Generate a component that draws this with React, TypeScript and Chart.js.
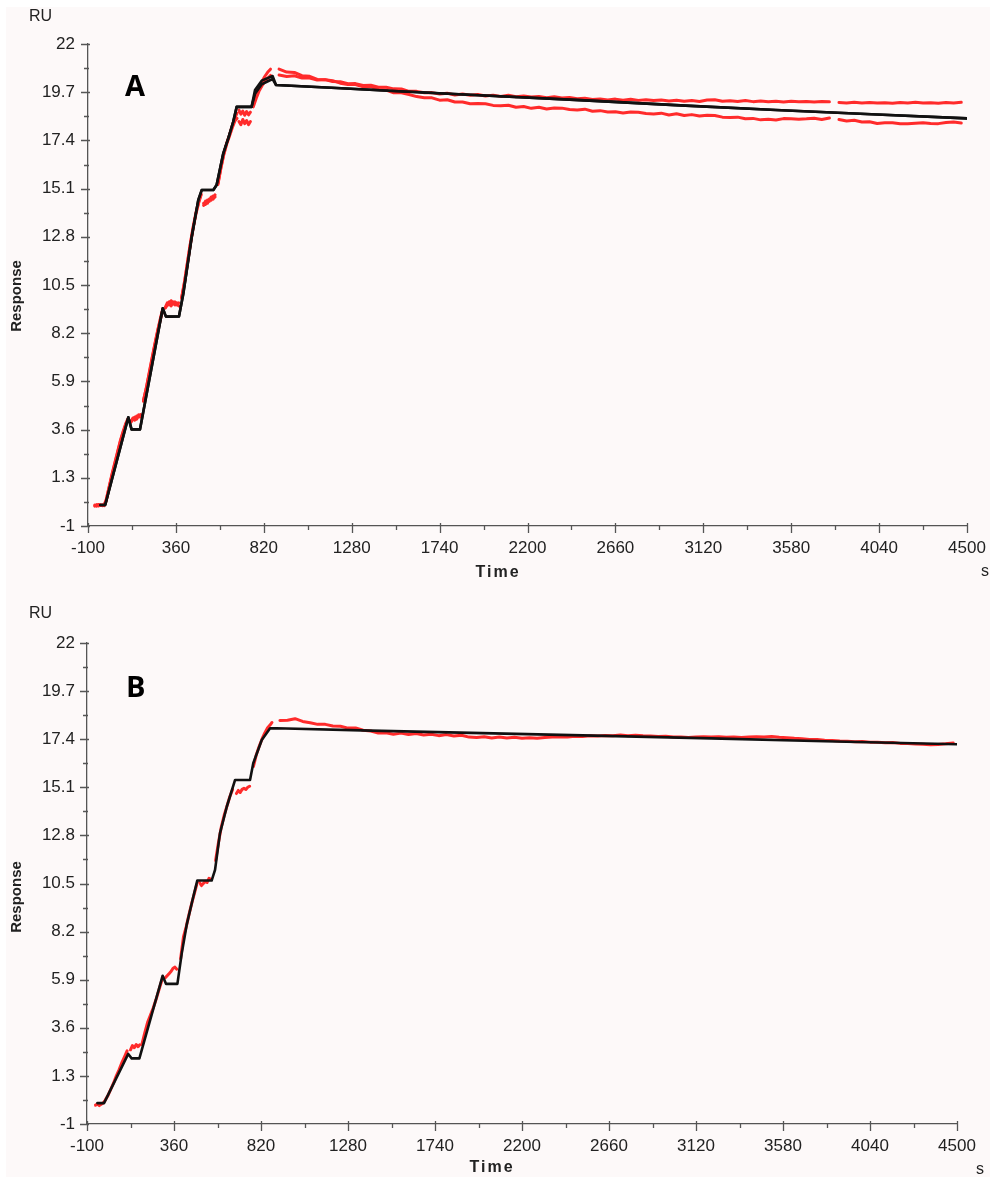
import React, { useEffect, useRef } from "react";
import { Chart, registerables } from "chart.js";

Chart.register(...registerables);

// ---------- axes ----------
const X_TICKS = [-100, 360, 820, 1280, 1740, 2200, 2660, 3120, 3580, 4040, 4500];
const X_TICK_LABELS = ["-100", "360", "820", "1280", "1740", "2200", "2660", "3120", "3580", "4040", "4500"];
const Y_TICKS = [-1, 1.3, 3.6, 5.9, 8.2, 10.5, 12.8, 15.1, 17.4, 19.7, 22];
const Y_TICK_LABELS = ["-1", "1.3", "3.6", "5.9", "8.2", "10.5", "12.8", "15.1", "17.4", "19.7", "22"];

// ---------- panel A : fitted curves (black) ----------
const fitA_t = [-35, -10, 111, 128, 172, 291, 308, 376, 399, 443, 477, 495, 556, 573, 608, 634, 660, 678, 756, 774, 809, 866, 884, 1200, 1500, 2000, 2500, 3000, 3500, 4000, 4500];
const fitA1_y = [0.0, 0.0, 4.19, 3.61, 3.61, 9.39, 8.99, 9.0, 10.1, 12.8, 14.55, 15.03, 15.03, 15.27, 16.78, 17.5, 18.29, 19.0, 19.0, 19.8, 20.25, 20.47, 20.04, 19.9, 19.76, 19.53, 19.31, 19.07, 18.85, 18.65, 18.45];
const fitA2_y = [0.0, 0.0, 4.19, 3.61, 3.61, 9.39, 8.99, 9.0, 10.1, 12.8, 14.55, 15.03, 15.03, 15.27, 16.78, 17.5, 18.29, 19.0, 19.0, 19.62, 20.08, 20.33, 20.04, 19.9, 19.76, 19.53, 19.31, 19.07, 18.85, 18.65, 18.45];

// ---------- panel A : measured data (red), association phase ----------
const redA_assoc_t = [
  -65, -55, -45, -35, -25, -15, -5, 10, 25, 40, 55, 70, 85, 98, 108, 116,
  125, 135, 145, 155, 165, 175, 183,
  190, 205, 220, 235, 250, 265, 280, 290, 297,
  305, 315, 325, 335, 345, 355, 365, 375, 383,
  390, 405, 420, 435, 450, 465, 480, 492, 498,
  505, 515, 525, 535, 545, 555, 565, 572,
  580, 595, 610, 625, 640, 655, 670, 680, 685,
  690, 700, 710, 720, 730, 740, 750, 757,
  765, 780, 795, 810, 825, 840, 855,
];
const redA1_assoc = [
  -0.05, 0.02, -0.04, 0.01, -0.03, 0.02, 0.25, 0.85, 1.45, 2.0, 2.55, 3.1, 3.55, 3.9, 4.1, null,
  4.0, 4.15, 4.05, 4.25, 4.2, 4.32, null,
  5.0, 5.55, 6.3, 7.0, 7.7, 8.35, 8.95, 9.3, null,
  9.45, 9.65, 9.55, 9.75, 9.6, 9.7, 9.55, 9.65, null,
  9.9, 10.65, 11.55, 12.45, 13.25, 13.95, 14.5, 14.85, null,
  14.3, 14.5, 14.4, 14.6, 14.55, 14.75, 14.7, null,
  15.35, 16.1, 16.75, 17.25, 17.65, 18.1, 18.5, 18.7, null,
  18.85, 18.65, 18.8, 18.6, 18.78, 18.62, 18.75, null,
  19.25, 19.65, 19.95, 20.2, 20.45, 20.65, 20.8,
];
const redA2_assoc = [
  0.0, -0.06, 0.03, -0.02, 0.01, -0.03, 0.2, 0.8, 1.4, 1.95, 2.5, 3.05, 3.5, 3.85, 4.05, null,
  3.95, 4.1, 4.2, 4.1, 4.3, 4.2, null,
  4.95, 5.6, 6.25, 6.95, 7.65, 8.3, 8.9, 9.25, null,
  9.4, 9.55, 9.7, 9.5, 9.7, 9.55, 9.65, 9.5, null,
  9.85, 10.6, 11.5, 12.4, 13.2, 13.9, 14.45, 14.8, null,
  14.4, 14.35, 14.55, 14.5, 14.7, 14.6, 14.8, null,
  15.3, 16.05, 16.7, 17.2, 17.6, 18.0, 18.35, 18.45, null,
  18.3, 18.15, 18.4, 18.2, 18.35, 18.15, 18.3, null,
  19.0, 19.4, 19.75, 20.0, 20.2, 20.35, 20.5,
];

// ---------- panel A : measured data (red), dissociation phase ----------
const redA_diss_t = [
  900, 940, 980, 1020, 1060, 1100, 1140, 1180, 1220, 1260,
  1300, 1340, 1380, 1420, 1460, 1500, 1540, 1580, 1620, 1660,
  1700, 1740, 1780, 1820, 1860, 1900, 1940, 1980, 2020, 2060,
  2100, 2140, 2180, 2220, 2260, 2300, 2340, 2380, 2420, 2460,
  2500, 2540, 2580, 2620, 2660, 2700, 2740, 2780, 2820, 2860,
  2900, 2940, 2980, 3020, 3060, 3100, 3140, 3180, 3220, 3260,
  3300, 3340, 3380, 3420, 3460, 3500, 3540, 3580, 3620, 3660,
  3700, 3740, 3780, 3805, 3830, 3870, 3910, 3950, 3990, 4030,
  4070, 4110, 4150, 4190, 4230, 4270, 4310, 4350, 4390, 4430,
  4470,
];
const redA1_diss = [
  20.80, 20.66, 20.64, 20.49, 20.46, 20.31, 20.30, 20.25, 20.13, 20.07,
  20.07, 19.96, 19.97, 19.83, 19.80, 19.67, 19.67, 19.59, 19.49, 19.44,
  19.43, 19.32, 19.34, 19.23, 19.23, 19.15, 19.16, 19.15, 19.07, 19.05,
  19.08, 18.98, 19.02, 18.93, 18.98, 18.90, 18.95, 18.94, 18.87, 18.85,
  18.89, 18.79, 18.82, 18.76, 18.77, 18.71, 18.76, 18.74, 18.68, 18.66,
  18.70, 18.61, 18.67, 18.59, 18.63, 18.56, 18.60, 18.59, 18.51, 18.49,
  18.51, 18.43, 18.45, 18.38, 18.41, 18.37, 18.44, 18.43, 18.41, 18.43,
  18.46, 18.40, 18.47, null, 18.40, 18.33, 18.36, 18.28, 18.29, 18.21,
  18.24, 18.24, 18.20, 18.20, 18.22, 18.24, 18.21, 18.20, 18.25, 18.28,
  18.23,
];
const redA2_diss = [
  20.52, 20.45, 20.48, 20.38, 20.38, 20.28, 20.30, 20.21, 20.20, 20.10,
  20.11, 20.02, 20.03, 19.94, 19.94, 19.86, 19.85, 19.74, 19.74, 19.67,
  19.68, 19.61, 19.65, 19.57, 19.61, 19.55, 19.59, 19.52, 19.56, 19.50,
  19.55, 19.48, 19.52, 19.47, 19.50, 19.44, 19.48, 19.42, 19.45, 19.39,
  19.41, 19.35, 19.38, 19.33, 19.37, 19.32, 19.36, 19.31, 19.34, 19.30,
  19.33, 19.28, 19.32, 19.27, 19.30, 19.26, 19.33, 19.34, 19.27, 19.29,
  19.26, 19.30, 19.25, 19.28, 19.24, 19.27, 19.23, 19.27, 19.24, 19.26,
  19.23, 19.26, 19.24, null, 19.21, 19.18, 19.22, 19.19, 19.21, 19.18,
  19.20, 19.17, 19.21, 19.19, 19.22, 19.18, 19.20, 19.17, 19.21, 19.19,
  19.22,
];

// ---------- panel B : fitted curve (black) ----------
const fitB_t = [-45, -10, 118, 136, 177, 300, 318, 378, 401, 427, 462, 483, 559, 577, 603, 639, 683, 762, 779, 824, 868, 900, 1400, 2050, 2580, 3200, 3800, 4500];
const fitB_y = [0.0, 0.0, 2.35, 2.14, 2.14, 6.09, 5.70, 5.70, 7.16, 8.52, 9.87, 10.64, 10.64, 11.15, 12.90, 14.17, 15.45, 15.45, 16.25, 17.36, 17.92, 17.92, 17.81, 17.68, 17.57, 17.44, 17.30, 17.16];

// ---------- panel B : measured data (red) ----------
const redB_assoc_t = [
  -55, -45, -35, -25, -15, -5, 10, 25, 40, 55, 70, 85, 100, 112, 120,
  130, 140, 150, 160, 170, 178, 184,
  190, 205, 220, 235, 250, 265, 280, 295, 305,
  315, 325, 335, 345, 355, 365, 375, 385,
  395, 410, 425, 440, 455, 470, 480, 486,
  495, 505, 515, 525, 535, 545, 555, 565,
  580, 595, 610, 625, 640, 655, 670, 680,
  690, 700, 710, 720, 730, 740, 750, 760, 768,
  780, 795, 810, 825, 840, 855, 870, 878,
];
const redB_assoc = [
  -0.1, -0.05, -0.12, -0.06, 0.0, 0.12, 0.35, 0.65, 0.95, 1.3, 1.6, 1.95, 2.25, 2.5, null,
  2.55, 2.75, 2.65, 2.8, 2.7, 2.78, null,
  2.8, 3.35, 3.85, 4.2, 4.55, 4.95, 5.4, 5.85, null,
  6.0, 6.1, 6.2, 6.3, 6.45, 6.5, 6.4, null,
  6.9, 7.95, 8.45, 9.05, 9.6, 10.1, 10.45, null,
  10.55, 10.4, 10.5, 10.6, 10.55, 10.75, 10.7, null,
  11.6, 12.45, 13.2, 13.75, 14.2, 14.65, 15.0, null,
  14.8, 14.95, 14.85, 15.0, 15.05, 15.0, 15.1, 15.15, null,
  16.1, 16.65, 17.05, 17.4, 17.7, 17.95, 18.1, 18.2,
];
const redB_diss_t = [
  920, 960, 1000, 1040, 1080, 1120, 1160, 1200, 1240, 1280,
  1320, 1360, 1400, 1440, 1480, 1520, 1560, 1600, 1640, 1680,
  1720, 1760, 1800, 1840, 1880, 1920, 1960, 2000, 2040, 2080,
  2120, 2160, 2200, 2240, 2280, 2320, 2360, 2400, 2440, 2480,
  2520, 2560, 2600, 2640, 2680, 2720, 2760, 2800, 2840, 2880,
  2920, 2960, 3000, 3040, 3080, 3120, 3160, 3200, 3240, 3280,
  3320, 3360, 3400, 3440, 3480, 3520, 3560, 3600, 3640, 3680,
  3720, 3760, 3800, 3840, 3880, 3920, 3960, 4000, 4040, 4080,
  4120, 4160, 4200, 4240, 4280, 4320, 4360, 4400, 4440, 4480,
];
const redB_diss = [
  18.30, 18.31, 18.38, 18.25, 18.19, 18.11, 18.11, 18.03, 18.02, 17.93,
  17.94, 17.83, 17.79, 17.70, 17.71, 17.64, 17.69, 17.62, 17.67, 17.60,
  17.64, 17.57, 17.62, 17.55, 17.59, 17.50, 17.48, 17.52, 17.46, 17.51,
  17.46, 17.49, 17.45, 17.47, 17.44, 17.48, 17.50, 17.52, 17.50, 17.54,
  17.53, 17.56, 17.55, 17.58, 17.57, 17.60, 17.57, 17.59, 17.56, 17.55,
  17.53, 17.54, 17.50, 17.51, 17.48, 17.51, 17.52, 17.50, 17.52, 17.49,
  17.51, 17.48, 17.50, 17.52, 17.50, 17.53, 17.49, 17.47, 17.44, 17.42,
  17.39, 17.38, 17.35, 17.34, 17.31, 17.30, 17.28, 17.29, 17.26, 17.25,
  17.23, 17.24, 17.20, 17.19, 17.17, 17.16, 17.13, 17.15, 17.18, 17.22,
];

// ---------- styles ----------
const RED = "#ff2b2b";
const BLACK = "#111111";
const AXIS = "#555555";
const TEXT = "#222222";
const BG = "#fdf9f9";
const FONT = "'Liberation Sans', Arial, sans-serif";

type Pt = { x: number; y: number | null };
function pts(t: number[], y: (number | null)[]): Pt[] {
  return t.map((x, i) => ({ x, y: y[i] === undefined ? null : y[i] }));
}

type PanelCfg = {
  top: number;
  height: number;
  area: { left: number; right: number; top: number; bottom: number };
  yLabelPad: number;
  letter: string;
  letterPos: [number, number];
  ruPos: [number, number];
  responsePos: [number, number];
  timePos: [number, number];
  sPos: [number, number];
  datasets: { data: Pt[]; color: string; width: number; order: number }[];
};

const PANEL_A: PanelCfg = {
  top: 0,
  height: 595,
  area: { left: 88, right: 967, top: 44, bottom: 526 },
  yLabelPad: 13,
  letter: "A",
  letterPos: [125, 96],
  ruPos: [29, 17],
  responsePos: [17, 296],
  timePos: [498, 573],
  sPos: [985, 572],
  datasets: [
    { data: pts(redA_assoc_t, redA1_assoc), color: RED, width: 3, order: 2 },
    { data: pts(redA_assoc_t, redA2_assoc), color: RED, width: 3, order: 2 },
    { data: pts(redA_diss_t, redA1_diss), color: RED, width: 3, order: 2 },
    { data: pts(redA_diss_t, redA2_diss), color: RED, width: 3, order: 2 },
    { data: pts(fitA_t, fitA2_y), color: BLACK, width: 2.6, order: 1 },
    { data: pts(fitA_t, fitA1_y), color: BLACK, width: 2.6, order: 0 },
  ],
};

const PANEL_B: PanelCfg = {
  top: 595,
  height: 583,
  area: { left: 87, right: 957, top: 48, bottom: 529 },
  yLabelPad: 12,
  letter: "B",
  letterPos: [126, 102],
  ruPos: [29, 19],
  responsePos: [17, 302],
  timePos: [492, 573],
  sPos: [980, 575],
  datasets: [
    { data: pts(redB_assoc_t, redB_assoc), color: RED, width: 3, order: 2 },
    { data: pts(redB_diss_t, redB_diss), color: RED, width: 3, order: 2 },
    { data: pts(fitB_t, fitB_y), color: BLACK, width: 2.6, order: 0 },
  ],
};

const W = 990;
const Y_AXIS_W = 60;
const X_AXIS_H = 40;

function labelFor(list: number[], labels: string[], v: number): string {
  let best = 0;
  for (let i = 0; i < list.length; i++) {
    if (Math.abs(list[i] - v) < Math.abs(list[best] - v)) best = i;
  }
  return labels[best];
}

function Panel({ cfg }: { cfg: PanelCfg }) {
  const ref = useRef<HTMLCanvasElement | null>(null);

  useEffect(() => {
    const canvas = ref.current;
    if (!canvas) return;
    const H = cfg.height;

    const decor = {
      id: "decor",
      afterDraw(chart: any) {
        const ctx: CanvasRenderingContext2D = chart.ctx;
        const xs = chart.scales.x;
        const ys = chart.scales.y;
        const { left, bottom } = chart.chartArea;
        ctx.save();
        ctx.strokeStyle = AXIS;
        ctx.lineWidth = 1.3;
        ctx.beginPath();
        Y_TICKS.forEach((v, i) => {
          const y = Math.round(ys.getPixelForValue(v)) + 0.5;
          ctx.moveTo(left - 7, y);
          ctx.lineTo(left + 2, y);
          if (i < Y_TICKS.length - 1) {
            const ym = Math.round(ys.getPixelForValue((v + Y_TICKS[i + 1]) / 2)) + 0.5;
            ctx.moveTo(left - 4, ym);
            ctx.lineTo(left + 1, ym);
          }
        });
        X_TICKS.forEach((v, i) => {
          const x = Math.round(xs.getPixelForValue(v)) + 0.5;
          ctx.moveTo(x, bottom - 3);
          ctx.lineTo(x, bottom + 7);
          if (i < X_TICKS.length - 1) {
            const xm = Math.round(xs.getPixelForValue((v + X_TICKS[i + 1]) / 2)) + 0.5;
            ctx.moveTo(xm, bottom - 1);
            ctx.lineTo(xm, bottom + 4);
          }
        });
        ctx.stroke();

        ctx.fillStyle = TEXT;
        ctx.font = `16px ${FONT}`;
        ctx.textAlign = "left";
        ctx.textBaseline = "middle";
        ctx.fillText("RU", cfg.ruPos[0], cfg.ruPos[1]);
        ctx.textAlign = "center";
        ctx.fillText("s", cfg.sPos[0], cfg.sPos[1]);
        ctx.font = `bold 16px ${FONT}`;
        (ctx as any).letterSpacing = "2px";
        ctx.fillText("Time", cfg.timePos[0], cfg.timePos[1]);
        (ctx as any).letterSpacing = "0px";
        ctx.save();
        ctx.translate(cfg.responsePos[0], cfg.responsePos[1]);
        ctx.rotate(-Math.PI / 2);
        ctx.font = `bold 15px ${FONT}`;
        ctx.textAlign = "center";
        ctx.textBaseline = "middle";
        ctx.fillText("Response", 0, 0);
        ctx.restore();
        ctx.fillStyle = "#000";
        ctx.font = `bold 29px 'Open Sans', ${FONT}`;
        ctx.textAlign = "left";
        ctx.textBaseline = "alphabetic";
        ctx.fillText(cfg.letter, cfg.letterPos[0], cfg.letterPos[1]);
        ctx.restore();
      },
    };

    const chart = new Chart(canvas, {
      type: "line",
      data: {
        datasets: cfg.datasets.map((d) => ({
          data: d.data as any,
          borderColor: d.color,
          backgroundColor: d.color,
          borderWidth: d.width,
          pointRadius: 0,
          fill: false,
          tension: 0,
          spanGaps: false,
          order: d.order,
          borderJoinStyle: "round" as const,
          borderCapStyle: "round" as const,
        })),
      },
      options: {
        animation: false,
        responsive: false,
        maintainAspectRatio: false,
        events: [],
        layout: {
          padding: {
            left: cfg.area.left - Y_AXIS_W,
            right: W - cfg.area.right,
            top: cfg.area.top,
            bottom: H - cfg.area.bottom - X_AXIS_H,
          },
        },
        plugins: {
          legend: { display: false },
          tooltip: { enabled: false },
          title: { display: false },
        },
        scales: {
          x: {
            type: "linear",
            min: -100,
            max: 4500,
            afterBuildTicks: (s: any) => {
              s.ticks = X_TICKS.map((v) => ({ value: v }));
            },
            afterFit: (s: any) => {
              s.height = X_AXIS_H;
              s.paddingLeft = 0;
              s.paddingRight = 0;
            },
            grid: { display: false, drawTicks: false },
            border: { display: true, color: AXIS, width: 1.3 },
            ticks: {
              padding: 12,
              maxRotation: 0,
              autoSkip: false,
              color: TEXT,
              font: { family: FONT, size: 17 },
              callback: (v: any) => labelFor(X_TICKS, X_TICK_LABELS, Number(v)),
            },
          },
          y: {
            type: "linear",
            min: -1,
            max: 22,
            afterBuildTicks: (s: any) => {
              s.ticks = Y_TICKS.map((v) => ({ value: v }));
            },
            afterFit: (s: any) => {
              s.width = Y_AXIS_W;
              s.paddingTop = 0;
              s.paddingBottom = 0;
            },
            grid: { display: false, drawTicks: false },
            border: { display: true, color: AXIS, width: 1.3 },
            ticks: {
              padding: cfg.yLabelPad,
              autoSkip: false,
              color: TEXT,
              font: { family: FONT, size: 17 },
              callback: (v: any) => labelFor(Y_TICKS, Y_TICK_LABELS, Number(v)),
            },
          },
        },
      },
      plugins: [decor],
    } as any);

    return () => chart.destroy();
  }, [cfg]);

  return (
    <canvas
      ref={ref}
      width={W}
      height={cfg.height}
      style={{ position: "absolute", left: 0, top: cfg.top, width: W, height: cfg.height, display: "block" }}
    />
  );
}

export default function App() {
  return (
    <div style={{ position: "absolute", left: 0, top: 0, width: 990, height: 1178, background: "#ffffff", overflow: "hidden" }}>
      <div style={{ position: "absolute", left: 6, top: 7, right: 0, bottom: 1, background: BG }} />
      <Panel cfg={PANEL_A} />
      <Panel cfg={PANEL_B} />
    </div>
  );
}
